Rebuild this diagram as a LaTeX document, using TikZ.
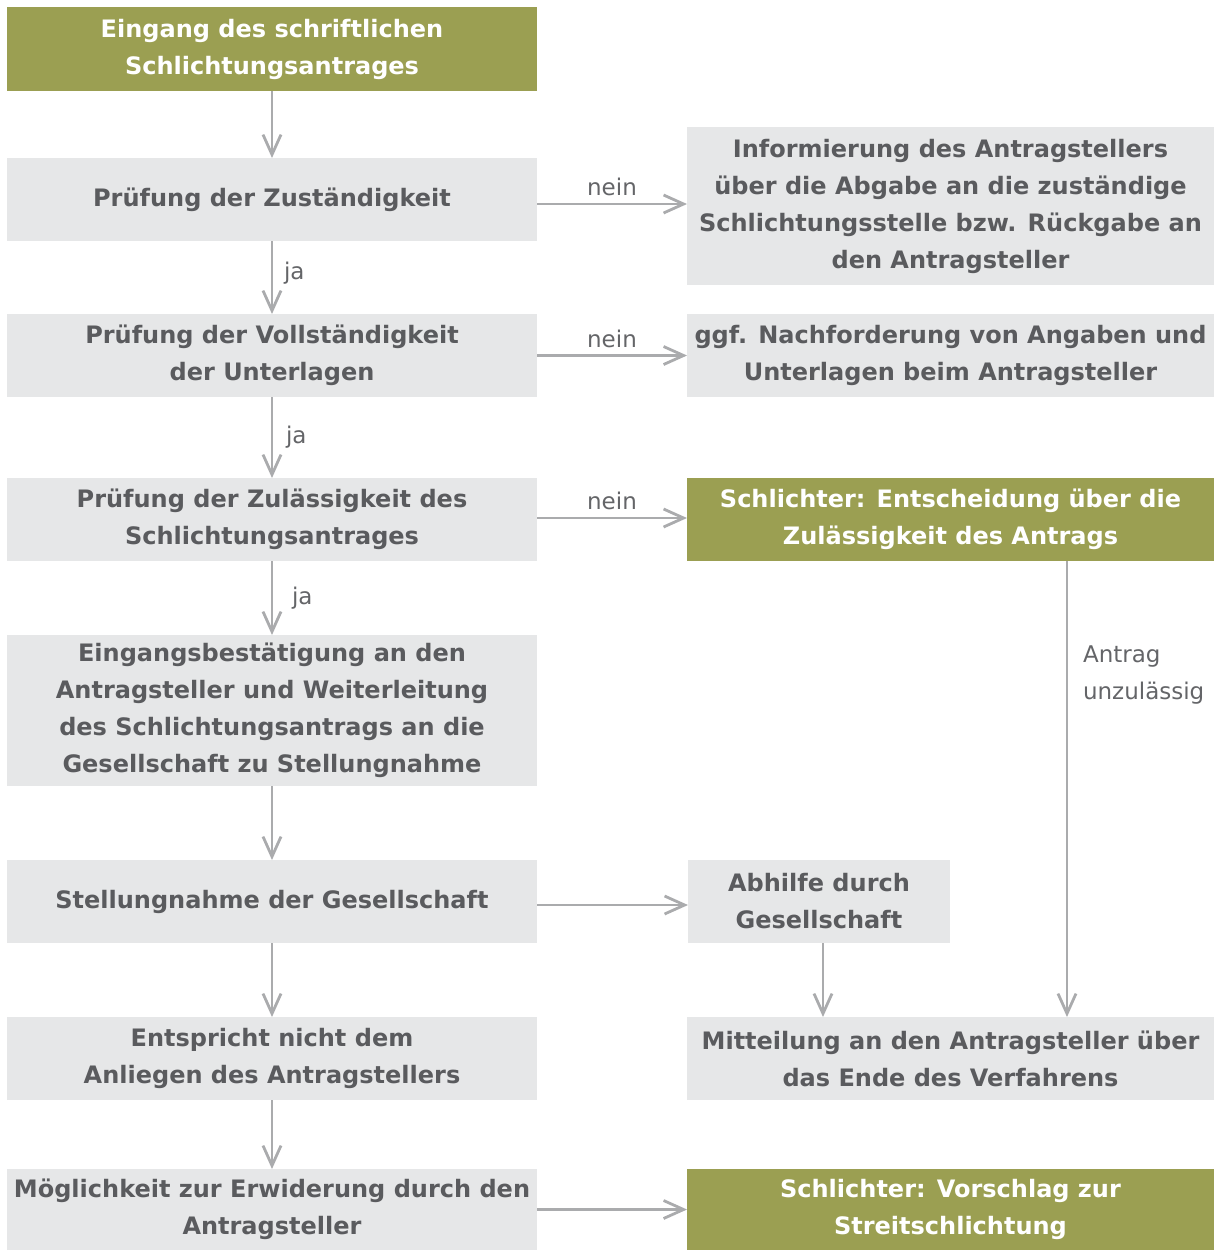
\documentclass[tikz,border=0pt]{standalone}
\usepackage{fontspec}
\setmainfont{DejaVu Sans}
\usepackage{xcolor}
\usepackage{tikz}
\usetikzlibrary{arrows.meta,positioning}

\definecolor{schlgreen}{RGB}{155,159,82}
\definecolor{boxgray}{RGB}{230,231,232}
\definecolor{textgray}{RGB}{90,91,94}
\definecolor{lblgray}{RGB}{100,101,104}
\definecolor{arrowgray}{RGB}{170,171,173}

\begin{document}
\begin{tikzpicture}[
    node distance=37pt,
    graybox/.style={rectangle, fill=boxgray, text=textgray, font=\bfseries\fontsize{12}{18.5}\selectfont, minimum width=265pt, minimum height=41.5pt, align=center, inner sep=1pt, outer sep=0pt},
    greenbox/.style={graybox, fill=schlgreen, text=white},
    rbox/.style={graybox, minimum width=263.5pt},
    rgreen/.style={greenbox, minimum width=263.5pt},
    lbl/.style={font=\fontsize{11.5}{18.5}\selectfont, text=lblgray},
    arrow/.style={-{Straight Barb[length=10pt,width=9pt]}, line width=1.4pt, draw=arrowgray}
]
\useasboundingbox (0,0) rectangle (607pt,-625pt);

% Left column
\node[greenbox, minimum height=42pt] (eingang) at (136pt,-24.5pt) {Eingang des schriftlichen\\Schlichtungsantrages};
\node[graybox, below=33.5pt of eingang] (zust) {Prüfung der Zuständigkeit};
\node[graybox, below=36.5pt of zust] (vollst) {Prüfung der Vollständigkeit\\der Unterlagen};
\node[graybox, below=40.5pt of vollst] (zulaess) {Prüfung der Zulässigkeit des\\Schlichtungsantrages};
\node[graybox, below=37pt of zulaess, minimum height=75.5pt] (bestaet) {Eingangsbestätigung an den\\Antragsteller und Weiterleitung\\des Schlichtungsantrags an die\\Gesellschaft zu Stellungnahme};
\node[graybox, below=37pt of bestaet] (stellung) {Stellungnahme der Gesellschaft};
\node[graybox, below=37pt of stellung] (anliegen) {Entspricht nicht dem\\Anliegen des Antragstellers};
\node[graybox, below=34.5pt of anliegen, minimum height=40.5pt] (erwid) {Möglichkeit zur Erwiderung durch den\\Antragsteller};

% Right column
\node[rbox, right=75pt of zust, yshift=-3.25pt, minimum height=79pt] (info) {Informierung des Antragstellers\\über die Abgabe an die zuständige\\Schlichtungsstelle bzw. Rückgabe an\\den Antragsteller};
\node[rbox, right=75pt of vollst] (nachf) {ggf. Nachforderung von Angaben und\\Unterlagen beim Antragsteller};
\node[rgreen, right=75pt of zulaess] (entsch) {Schlichter: Entscheidung über die\\Zulässigkeit des Antrags};
\node[graybox, right=75.5pt of stellung, minimum width=131pt] (abhilfe) {Abhilfe durch\\Gesellschaft};
\node[rbox, right=75pt of anliegen] (mitteil) {Mitteilung an den Antragsteller über\\das Ende des Verfahrens};
\node[rgreen, right=75pt of erwid, minimum height=40.5pt] (vorschlag) {Schlichter: Vorschlag zur\\Streitschlichtung};

% Connections down
\draw[arrow] (eingang) -- (zust);
\draw[arrow] (zust) -- node[lbl, right, xshift=2pt, yshift=2pt] {ja} (vollst);
\draw[arrow] (vollst) -- node[lbl, right, xshift=3pt] {ja} (zulaess);
\draw[arrow] (zulaess) -- node[lbl, right, xshift=6pt] {ja} (bestaet);
\draw[arrow] (bestaet) -- (stellung);
\draw[arrow] (stellung) -- (anliegen);
\draw[arrow] (anliegen) -- (erwid);

% Connections right
\draw[arrow] ([yshift=-2.25pt]zust.east) -- node[lbl, above] {nein} ([yshift=-2.25pt]zust.east -| info.west);
\draw[arrow] (vollst.east) -- node[lbl, above] {nein} (vollst.east -| nachf.west);
\draw[arrow] ([yshift=0.75pt]zulaess.east) -- node[lbl, above] {nein} ([yshift=0.75pt]zulaess.east -| entsch.west);
\draw[arrow] ([yshift=-1.75pt]stellung.east) -- ([yshift=-1.75pt]stellung.east -| abhilfe.west);
\draw[arrow] (erwid.east) -- (erwid.east -| vorschlag.west);

% Right column down
\draw[arrow] ([xshift=58.25pt]entsch.south) -- node[lbl, pos=0.25, right, xshift=4pt, align=left] {Antrag\\unzulässig} ([xshift=58.25pt]entsch.south |- mitteil.north);
\draw[arrow] ([xshift=2pt]abhilfe.south) -- ([xshift=2pt]abhilfe.south |- mitteil.north);

\end{tikzpicture}
\end{document}
